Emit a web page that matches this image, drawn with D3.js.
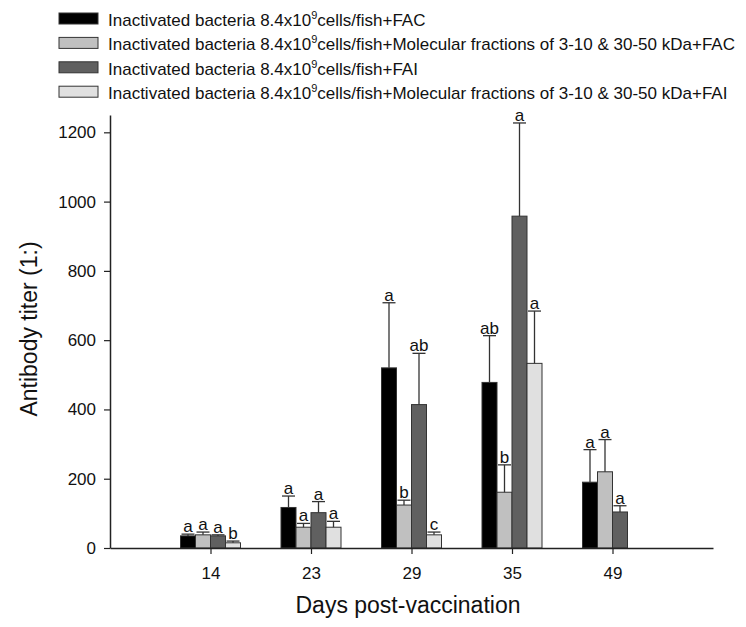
<!DOCTYPE html>
<html>
<head>
<meta charset="utf-8">
<script src="https://cdn.jsdelivr.net/npm/d3@7"></script>
<style>
  body { margin: 0; background: #fff; }
  svg { display: block; }
  text { font-family: "Liberation Sans", Arial, sans-serif; }
</style>
</head>
<body>
<svg id="chart" width="746" height="627"></svg>
<script>
// Days on the x axis
var days = ["14", "23", "29", "35", "49"];

// Legend names (split around the superscript 9)
var seriesTails = [
    "cells/fish+FAC",
    "cells/fish+Molecular fractions of 3-10 & 30-50 kDa+FAC",
    "cells/fish+FAI",
    "cells/fish+Molecular fractions of 3-10 & 30-50 kDa+FAI"
];
var seriesColors = ["#000000", "#c0c0c0", "#606060", "#e0e0e0"];

// Mean titers per series (null = not measured)
var facMean     = [35, 117, 520, 478, 190];
var fracFacMean = [38, 60, 124, 161, 220];
var faiMean     = [35, 102, 414, 958, 104];
var fracFaiMean = [15, 60, 38, 533, null];

// Upper error (SE)
var facErr     = [5, 33, 188, 135, 94];
var fracFacErr = [8, 11, 14, 79, 93];
var faiErr     = [3, 32, 148, 269, 18];
var fracFaiErr = [5, 17, 8, 151, null];

// Significance letters
var facLetters     = ["a", "a", "a", "ab", "a"];
var fracFacLetters = ["a", "a", "b", "b", "a"];
var faiLetters     = ["a", "a", "ab", "a", "a"];
var fracFaiLetters = ["b", "a", "c", "a", null];

var yTicks = [0, 200, 400, 600, 800, 1000, 1200];

var means = [facMean, fracFacMean, faiMean, fracFaiMean];
var errs = [facErr, fracFacErr, faiErr, fracFaiErr];
var letters = [facLetters, fracFacLetters, faiLetters, fracFaiLetters];

// Flatten into bar records
var bars = [];
means.forEach(function(series, s) {
    series.forEach(function(v, i) {
        if (v == null) return;
        bars.push({ s: s, i: i, value: v, err: errs[s][i], letter: letters[s][i] });
    });
});

var svg = d3.select("#chart");

// Scales
var x = d3.scaleLinear().domain([0, days.length + 1]).range([110, 713]);
var inner = d3.scaleBand().domain([0, 1, 2, 3]).range([-30, 30]);
var y = d3.scaleLinear().domain([0, 1250]).range([548, 115]);

var barMid = function(d) { return x(d.i + 1) + inner(d.s) + inner.bandwidth() / 2; };

// Bars
svg.selectAll(".bar")
    .data(bars)
    .join("rect")
    .attr("class", "bar")
    .attr("x", function(d) { return x(d.i + 1) + inner(d.s); })
    .attr("y", function(d) { return y(d.value); })
    .attr("width", inner.bandwidth())
    .attr("height", function(d) { return y(0) - y(d.value); })
    .attr("fill", function(d) { return seriesColors[d.s]; })
    .attr("stroke", "#333")
    .attr("stroke-width", 1);

// Error bars
var eb = svg.selectAll(".err")
    .data(bars)
    .join("g")
    .attr("class", "err")
    .attr("stroke", "#333")
    .attr("stroke-width", 1.3);

eb.append("line")
    .attr("x1", barMid)
    .attr("x2", barMid)
    .attr("y1", function(d) { return y(d.value); })
    .attr("y2", function(d) { return y(d.value + d.err); });

eb.append("line")
    .attr("x1", function(d) { return barMid(d) - 6.5; })
    .attr("x2", function(d) { return barMid(d) + 6.5; })
    .attr("y1", function(d) { return y(d.value + d.err); })
    .attr("y2", function(d) { return y(d.value + d.err); });

// Letters
svg.selectAll(".letter")
    .data(bars)
    .join("text")
    .attr("class", "letter")
    .attr("x", barMid)
    .attr("y", function(d) { return y(d.value + d.err) - 2; })
    .attr("text-anchor", "middle")
    .attr("font-size", 17)
    .attr("fill", "#111")
    .text(function(d) { return d.letter; });

// Axes
var xAxis = svg.append("g")
    .attr("transform", "translate(0," + y(0) + ")")
    .call(d3.axisBottom(x)
        .tickValues(d3.range(1, days.length + 1))
        .tickFormat(function(d) { return days[d - 1]; })
        .tickSize(6)
        .tickSizeOuter(0)
        .tickPadding(13));

var yAxis = svg.append("g")
    .attr("transform", "translate(" + x(0) + ",0)")
    .call(d3.axisLeft(y)
        .tickValues(yTicks)
        .tickFormat(d3.format("d"))
        .tickSize(6)
        .tickSizeOuter(0)
        .tickPadding(8));

[xAxis, yAxis].forEach(function(a) {
    a.select(".domain").attr("stroke", "#222").attr("stroke-width", 1.5);
    a.selectAll(".tick line").attr("stroke", "#222").attr("stroke-width", 1.2);
    a.selectAll(".tick text")
        .attr("font-size", 17)
        .attr("font-family", "'Liberation Sans', Arial, sans-serif")
        .attr("fill", "#111");
});

// Axis titles
svg.append("text")
    .attr("x", 408)
    .attr("y", 613)
    .attr("text-anchor", "middle")
    .attr("font-family", "Lato, sans-serif")
    .attr("font-size", 23)
    .attr("fill", "#111")
    .text("Days post-vaccination");

svg.append("text")
    .attr("transform", "translate(37,329) rotate(-90)")
    .attr("text-anchor", "middle")
    .attr("font-family", "Lato, sans-serif")
    .attr("font-size", 23)
    .attr("fill", "#111")
    .text("Antibody titer (1:)");

// Legend
var legend = svg.selectAll(".legend")
    .data(seriesTails)
    .join("g")
    .attr("class", "legend")
    .attr("transform", function(d, i) { return "translate(59," + (13 + i * 24.4) + ")"; });

legend.append("rect")
    .attr("width", 39)
    .attr("height", 11)
    .attr("fill", function(d, i) { return seriesColors[i]; })
    .attr("stroke", "#333")
    .attr("stroke-width", 1);

var lt = legend.append("text")
    .attr("x", 49)
    .attr("y", 13)
    .attr("font-size", 17)
    .attr("fill", "#111");

lt.append("tspan").text("Inactivated bacteria 8.4x10");
lt.append("tspan").attr("font-size", 11).attr("dy", -7).text("9");
lt.append("tspan").attr("dy", 7).text(function(d) { return d; });
</script>
</body>
</html>
